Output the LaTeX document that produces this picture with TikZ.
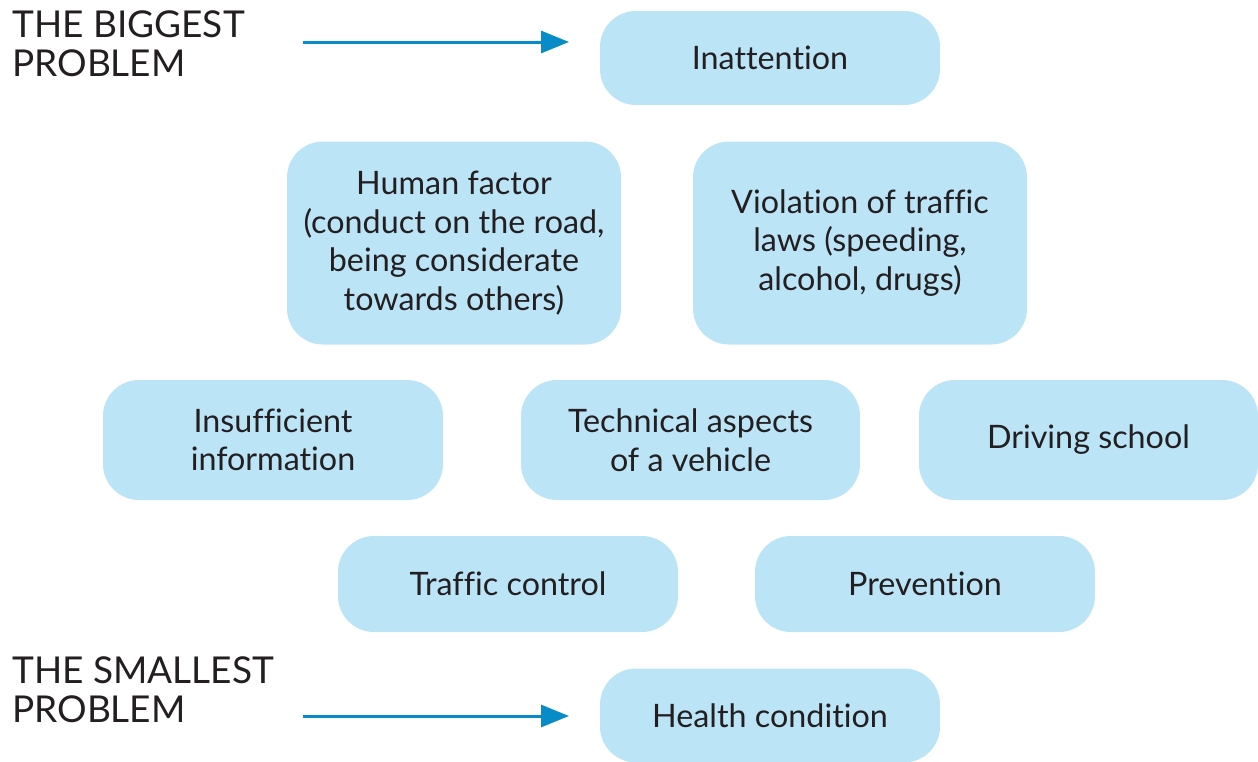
\documentclass[tikz,border=0pt]{standalone}
\usepackage{fontspec}
\setmainfont{Lato}[Ligatures={NoCommon}]
\usetikzlibrary{arrows.meta}
\definecolor{boxblue}{RGB}{188,228,247}
\definecolor{arrowblue}{RGB}{8,140,200}
\definecolor{txt}{RGB}{35,31,32}
\begin{document}
\begin{tikzpicture}[x=1pt,y=-1pt,
  problem/.style={rounded corners=36pt, fill=boxblue, draw=none, text=txt,
    align=center, font=\fontsize{32.3}{38.5}\selectfont, inner sep=0pt},
  side/.style={anchor=north west, align=left, text=txt, inner sep=0pt,
    font=\fontsize{37}{39}\selectfont},
  pointer/.style={draw=arrowblue, line width=3pt, -{Triangle[length=28pt,width=22pt]}}]
\useasboundingbox (0,0) rectangle (1258,761);
\node[problem, minimum width=340pt, minimum height=94pt] (inatt) at (770,58) {Inattention};
\node[problem, minimum width=334pt, minimum height=203pt] (human) at (454,243) {Human factor\\(conduct on the road,\\being considerate\\towards others)};
\node[problem, minimum width=334pt, minimum height=203pt] (viol) at (860,243) {Violation of traffic\\laws (speeding,\\alcohol, drugs)};
\node[problem, minimum width=340pt, minimum height=120pt] (insuf) at (273,440) {Insufficient\\information};
\node[problem, minimum width=339pt, minimum height=120pt] (tech) at (690.5,440) {Technical aspects\\of a vehicle};
\node[problem, minimum width=339pt, minimum height=120pt] (drive) at (1088.5,440) {Driving school};
\node[problem, minimum width=340pt, minimum height=96pt] (traffic) at (508,584) {Traffic control};
\node[problem, minimum width=340pt, minimum height=96pt] (prev) at (925,584) {Prevention};
\node[problem, minimum width=340pt, minimum height=94pt] (health) at (770,715.5) {Health condition};
\node[side] (big) at (12,10) {THE BIGGEST\\PROBLEM};
\node[side] (small) at (12,656) {THE SMALLEST\\PROBLEM};
\coordinate (a1s) at (303,42);
\coordinate (a1e) at (569,42);
\coordinate (a2s) at (303,716);
\coordinate (a2e) at (569,716);
\draw[pointer] (a1s) -- (a1e);
\draw[pointer] (a2s) -- (a2e);
\end{tikzpicture}
\end{document}
